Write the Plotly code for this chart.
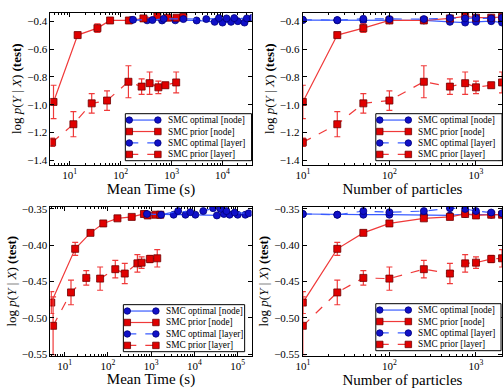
import math
import plotly.graph_objects as go

# ---------------- data ----------------
particles = [10, 25, 50, 100, 250, 500, 750, 1000, 1500, 2000]

# top row (first data set)
t1_prior_node_time = [4.8, 14.3, 35, 62, 145, 280, 525, 850, 1250, 1700]
t1_prior_layer_time = [4.5, 11.8, 27, 54, 142, 258, 370, 550, 755, 1230]
t1_opt_node_time = [160, 330, 650, 1180, 3100, 7000, 10000, 14700, 20000, 27000]
t1_opt_layer_time = [175, 420, 700, 1700, 4800, 8500, 12000, 17000, 30000, 39000]

t1_opt_node = [-0.392, -0.394, -0.395, -0.394, -0.395, -0.405, -0.41, -0.405, -0.40, -0.41]
t1_opt_layer = [-0.39, -0.392, -0.383, -0.385, -0.385, -0.378, -0.38, -0.378, -0.38, -0.375]
t1_prior_node = [-0.98, -0.50, -0.45, -0.395, -0.395, -0.38, -0.365, -0.375, -0.375, -0.37]
t1_prior_node_err = [0.12, 0.02, 0.03, 0.015, 0.01, 0.01, 0.01, 0.01, 0.01, 0.01]
t1_prior_layer = [-1.27, -1.14, -0.99, -0.97, -0.835, -0.87, -0.845, -0.875, -0.86, -0.84]
t1_prior_layer_err = [0.03, 0.09, 0.07, 0.07, 0.115, 0.055, 0.08, 0.045, 0.02, 0.075]

# bottom row (second data set)
t2_prior_node_time = [4.9, 17.5, 39.5, 78, 166, 355, 680, 830, 1260, 1620]
t2_prior_layer_time = [5.4, 14, 31.6, 66, 148, 245, 480, 600, 930, 1380]
t2_opt_node_time = [740, 1600, 3300, 6200, 10500, 33000, 48000, 65000, 100000, 150000]
t2_opt_layer_time = [800, 1700, 4200, 8000, 16000, 27000, 40000, 55000, 85000, 180000]

t2_opt_node = [-0.357, -0.358, -0.358, -0.358, -0.358, -0.359, -0.357, -0.358, -0.358, -0.358]
t2_opt_layer = [-0.357, -0.358, -0.353, -0.3545, -0.353, -0.349, -0.350, -0.353, -0.355, -0.356]
t2_prior_node = [-0.479, -0.405, -0.383, -0.370, -0.363, -0.361, -0.357, -0.359, -0.358, -0.358]
t2_prior_node_err = [0.015, 0.009, 0.003, 0.003, 0.003, 0.003, 0.003, 0.003, 0.002, 0.002]
t2_prior_layer = [-0.511, -0.465, -0.445, -0.446, -0.433, -0.439, -0.425, -0.424, -0.419, -0.418]
t2_prior_layer_err = [0.04, 0.017, 0.01, 0.016, 0.012, 0.014, 0.012, 0.008, 0.005, 0.012]

series_names = ["SMC optimal [node]", "SMC prior [node]", "SMC optimal [layer]", "SMC prior [layer]"]

# ---------------- style ----------------
BLUE = "#1010c8"
BLUE_EDGE = "#00007a"
BLUE_LINE = "#3a5cff"
RED = "#e00000"
RED_EDGE = "#700000"
RED_LINE = "#f03a3a"
FONT = "Liberation Serif"
W, H = 504, 388

fig = go.Figure()

panels = [
    ((t1_opt_node_time, t1_opt_layer_time, t1_prior_node_time, t1_prior_layer_time),
     (t1_opt_node, t1_opt_layer, t1_prior_node, t1_prior_node_err, t1_prior_layer, t1_prior_layer_err), 1),
    ((particles, particles, particles, particles),
     (t1_opt_node, t1_opt_layer, t1_prior_node, t1_prior_node_err, t1_prior_layer, t1_prior_layer_err), 2),
    ((t2_opt_node_time, t2_opt_layer_time, t2_prior_node_time, t2_prior_layer_time),
     (t2_opt_node, t2_opt_layer, t2_prior_node, t2_prior_node_err, t2_prior_layer, t2_prior_layer_err), 3),
    ((particles, particles, particles, particles),
     (t2_opt_node, t2_opt_layer, t2_prior_node, t2_prior_node_err, t2_prior_layer, t2_prior_layer_err), 4),
]

circ = dict(symbol="circle", size=7, color=BLUE, line=dict(color=BLUE_EDGE, width=0.8))
sq = dict(symbol="square", size=7, color=RED, line=dict(color=RED_EDGE, width=0.8))

for xs, ys, k in panels:
    xa = "x" if k == 1 else f"x{k}"
    ya = "y" if k == 1 else f"y{k}"
    on, ol, pn, pne, pl, ple = ys
    fig.add_trace(go.Scatter(x=xs[0], y=on, mode="lines+markers", name=series_names[0],
                             line=dict(color=BLUE_LINE, width=1.2), marker=circ,
                             xaxis=xa, yaxis=ya, showlegend=False))
    fig.add_trace(go.Scatter(x=xs[2], y=pn, mode="lines+markers", name=series_names[1],
                             line=dict(color=RED_LINE, width=1.2), marker=sq,
                             error_y=dict(type="data", array=pne, color=RED_LINE, thickness=1.2, width=3),
                             xaxis=xa, yaxis=ya, showlegend=False))
    fig.add_trace(go.Scatter(x=xs[1], y=ol, mode="lines+markers", name=series_names[2],
                             line=dict(color=BLUE_LINE, width=1.2, dash="dash"), marker=circ,
                             xaxis=xa, yaxis=ya, showlegend=False))
    fig.add_trace(go.Scatter(x=xs[3], y=pl, mode="lines+markers", name=series_names[3],
                             line=dict(color=RED_LINE, width=1.2, dash="dash"), marker=sq,
                             error_y=dict(type="data", array=ple, color=RED_LINE, thickness=1.2, width=3),
                             xaxis=xa, yaxis=ya, showlegend=False))


def minor_vals(lo, hi):
    vals = []
    for d in range(lo, hi):
        for m in range(2, 10):
            vals.append(m * 10 ** d)
    return vals


def xaxis(dom, rng, title, tickvals, anchor):
    return dict(
        domain=dom, type="log", range=rng, anchor=anchor,
        showline=True, linecolor="black", linewidth=1, mirror="allticks",
        ticks="inside", ticklen=4, tickcolor="black", tickwidth=0.8,
        tickmode="array", tickvals=tickvals,
        ticktext=[f"10<sup>{len(str(v)) - 1}</sup>" for v in tickvals],
        minor=dict(tickmode="array", tickvals=minor_vals(0, 6), ticks="inside",
                   ticklen=2, tickcolor="black", tickwidth=0.6),
        showgrid=False, zeroline=False,
        tickfont=dict(family=FONT, size=11, color="black"),
        title=dict(text=title, font=dict(family=FONT, size=15, color="black"), standoff=3),
    )


def yaxis(dom, rng, dtick, fmt, anchor):
    return dict(
        domain=dom, range=rng, anchor=anchor,
        showline=True, linecolor="black", linewidth=1, mirror="allticks",
        ticks="inside", ticklen=4, tickcolor="black", tickwidth=0.8,
        dtick=dtick, tick0=0, tickformat=fmt,
        showgrid=False, zeroline=False,
        tickfont=dict(family=FONT, size=11, color="black"),
        title=dict(text="log <i>p</i>(<i>Y</i> | <i>X</i>) <b>(test)</b>",
                   font=dict(family=FONT, size=13, color="black"), standoff=2),
    )


top_dom = [1 - 164 / H, 1 - 9 / H]
bot_dom = [1 - 359 / H, 1 - 207 / H]
L_dom = [44 / W, 248 / W]
R_dom = [300 / W, 502 / W]

layout = dict(
    width=W, height=H, margin=dict(l=0, r=0, t=0, b=0),
    paper_bgcolor="white", plot_bgcolor="white",
    font=dict(family=FONT, color="black"),
    showlegend=False,
    xaxis=xaxis(L_dom, [0.62, 4.57], "Mean Time (s)", [10, 100, 1000, 10000], "y"),
    yaxis=yaxis(top_dom, [-1.43, -0.34], 0.2, ".1f", "x"),
    xaxis2=xaxis(R_dom, [1, math.log10(2000)], "Number of particles", [10, 100, 1000], "y2"),
    yaxis2=yaxis(top_dom, [-1.43, -0.34], 0.2, ".1f", "x2"),
    xaxis3=xaxis(L_dom, [0.67, 5.32], "Mean Time (s)", [10, 100, 1000, 10000, 100000], "y3"),
    yaxis3=yaxis(bot_dom, [-0.552, -0.347], 0.05, ".2f", "x3"),
    xaxis4=xaxis(R_dom, [1, math.log10(2000)], "Number of particles", [10, 100, 1000], "y4"),
    yaxis4=yaxis(bot_dom, [-0.552, -0.347], 0.05, ".2f", "x4"),
)
fig.update_layout(**layout)

# ---------------- custom compact legends (pixel boxes: left, top, right, bottom) ----------------
legend_boxes = [(120, 112, 248, 160), (374, 112, 502, 160), (118, 307, 241, 355), (374, 306, 501, 354)]
legend_styles = [
    (BLUE_LINE, "solid", "circle", BLUE, BLUE_EDGE),
    (RED_LINE, "solid", "rect", RED, RED_EDGE),
    (BLUE_LINE, "dash", "circle", BLUE, BLUE_EDGE),
    (RED_LINE, "dash", "rect", RED, RED_EDGE),
]


def px(xp):
    return xp / W


def py(yp):
    return 1 - yp / H


shapes = []
annotations = []
for (l, t, r, b) in legend_boxes:
    shapes.append(dict(type="rect", xref="paper", yref="paper",
                       x0=px(l), x1=px(r), y0=py(b), y1=py(t),
                       line=dict(color="black", width=1), fillcolor="white", layer="above"))
    rows = [t + 6.5, t + 18.2, t + 29.9, t + 41.6]
    for (lc, dash, mshape, fc, ec), name, yy in zip(legend_styles, series_names, rows):
        x_a, x_b = l + 4, l + 33
        shapes.append(dict(type="line", xref="paper", yref="paper",
                           x0=px(x_a), x1=px(x_b), y0=py(yy), y1=py(yy),
                           line=dict(color=lc, width=1.2, dash=dash), layer="above"))
        for xm in (x_a, x_b):
            shapes.append(dict(type=mshape, xref="paper", yref="paper",
                               x0=px(xm - 3.3), x1=px(xm + 3.3), y0=py(yy + 3.3), y1=py(yy - 3.3),
                               line=dict(color=ec, width=0.8), fillcolor=fc, layer="above"))
        annotations.append(dict(xref="paper", yref="paper", x=px(l + 41), y=py(yy),
                                xanchor="left", yanchor="middle", showarrow=False,
                                text=name, font=dict(family=FONT, size=9.3, color="black")))

fig.update_layout(shapes=shapes, annotations=annotations)
fig.write_html("out.html")
